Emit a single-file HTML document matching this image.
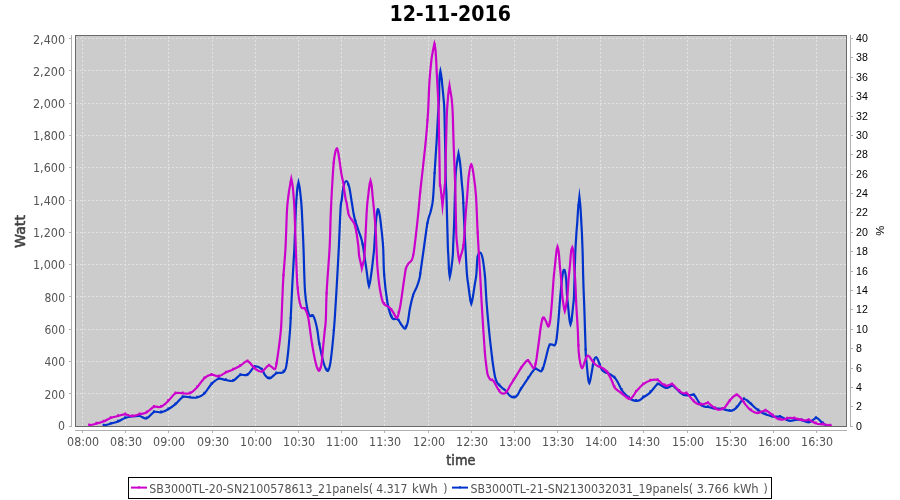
<!DOCTYPE html>
<html><head><meta charset="utf-8"><title>12-11-2016</title>
<style>
html,body{margin:0;padding:0;background:#fff;}
svg{display:block;}
.t{font-family:"DejaVu Sans Condensed","DejaVu Sans","Liberation Sans",sans-serif;font-size:12px;fill:#545454;}
.r{font-family:"Liberation Sans",sans-serif;font-size:10px;fill:#000;}
.sb{font-family:"DejaVu Sans","Liberation Sans",sans-serif;fill:#404040;stroke:#404040;stroke-width:0.55px;stroke-linejoin:round;}
.b{font-family:"DejaVu Sans","Liberation Sans",sans-serif;font-weight:bold;}
</style></head><body>
<svg width="900" height="500" viewBox="0 0 900 500">
<rect x="0" y="0" width="900" height="500" fill="#ffffff"/>
<text class="b" x="450.2" y="21" font-size="21" text-anchor="middle" fill="#000" textLength="121.5" lengthAdjust="spacingAndGlyphs">12-11-2016</text>
<rect x="75" y="35" width="772" height="392" fill="#cccccc"/>

<g stroke="#e2e2e2" stroke-width="1" stroke-dasharray="2 2" shape-rendering="crispEdges" fill="none">
<line x1="82.5" y1="36" x2="82.5" y2="426"/>
<line x1="125.5" y1="36" x2="125.5" y2="426"/>
<line x1="168.5" y1="36" x2="168.5" y2="426"/>
<line x1="212.5" y1="36" x2="212.5" y2="426"/>
<line x1="255.5" y1="36" x2="255.5" y2="426"/>
<line x1="298.5" y1="36" x2="298.5" y2="426"/>
<line x1="341.5" y1="36" x2="341.5" y2="426"/>
<line x1="384.5" y1="36" x2="384.5" y2="426"/>
<line x1="428.5" y1="36" x2="428.5" y2="426"/>
<line x1="471.5" y1="36" x2="471.5" y2="426"/>
<line x1="514.5" y1="36" x2="514.5" y2="426"/>
<line x1="557.5" y1="36" x2="557.5" y2="426"/>
<line x1="600.5" y1="36" x2="600.5" y2="426"/>
<line x1="643.5" y1="36" x2="643.5" y2="426"/>
<line x1="687.5" y1="36" x2="687.5" y2="426"/>
<line x1="730.5" y1="36" x2="730.5" y2="426"/>
<line x1="773.5" y1="36" x2="773.5" y2="426"/>
<line x1="816.5" y1="36" x2="816.5" y2="426"/>
<line x1="76" y1="393.5" x2="846" y2="393.5"/>
<line x1="76" y1="361.5" x2="846" y2="361.5"/>
<line x1="76" y1="329.5" x2="846" y2="329.5"/>
<line x1="76" y1="296.5" x2="846" y2="296.5"/>
<line x1="76" y1="264.5" x2="846" y2="264.5"/>
<line x1="76" y1="232.5" x2="846" y2="232.5"/>
<line x1="76" y1="200.5" x2="846" y2="200.5"/>
<line x1="76" y1="167.5" x2="846" y2="167.5"/>
<line x1="76" y1="135.5" x2="846" y2="135.5"/>
<line x1="76" y1="103.5" x2="846" y2="103.5"/>
<line x1="76" y1="70.5" x2="846" y2="70.5"/>
<line x1="76" y1="38.5" x2="846" y2="38.5"/>
</g>
<g fill="none" stroke-width="2.2" stroke-linejoin="miter" stroke-miterlimit="14" stroke-linecap="butt">
<path stroke="#0033cc" d="M103.5 425.5 C104.7 425.2 108.1 424.4 110.5 423.7 C112.9 423.0 115.6 422.4 118.0 421.5 C120.4 420.6 122.7 418.8 125.0 418.0 C127.3 417.2 129.6 416.8 132.0 416.5 C134.4 416.2 137.1 415.7 139.5 416.0 C141.9 416.3 144.1 419.2 146.5 418.5 C148.9 417.8 151.6 413.0 154.0 412.0 C156.4 411.0 158.6 412.8 161.0 412.3 C163.4 411.8 165.9 410.6 168.3 409.2 C170.7 407.8 173.1 406.2 175.5 404.2 C177.9 402.2 180.4 398.1 182.8 397.0 C185.2 395.9 187.6 397.4 190.0 397.5 C192.4 397.6 194.6 398.1 197.0 397.5 C199.4 396.9 201.8 395.9 204.2 393.7 C206.6 391.5 208.9 386.7 211.3 384.2 C213.7 381.7 216.3 379.5 218.7 378.8 C221.1 378.1 223.4 379.7 225.8 380.0 C228.2 380.3 230.6 381.6 233.0 380.8 C235.4 380.0 237.9 376.0 240.3 375.0 C242.7 374.0 245.1 376.1 247.5 374.7 C249.9 373.3 252.3 367.6 254.7 366.7 C257.1 365.8 260.0 367.8 261.7 369.2 C263.4 370.6 263.7 373.4 265.0 375.0 C266.3 376.6 267.6 378.8 269.5 378.5 C271.4 378.2 274.3 374.2 276.5 373.2 C278.7 372.2 281.2 373.3 282.8 372.5 C284.4 371.7 284.9 371.5 285.8 368.3 C286.7 365.1 287.3 359.6 288.0 353.3 C288.7 347.0 289.5 336.7 290.0 330.5 C290.5 324.3 290.4 324.2 290.8 316.0 C291.2 307.8 291.9 292.6 292.5 281.3 C293.1 270.0 293.8 259.9 294.4 248.0 C294.9 236.1 295.4 218.8 295.8 210.0 C296.2 201.2 296.5 198.7 296.8 195.0 C297.1 191.3 297.1 190.1 297.4 188.0 C297.7 185.9 298.5 182.3 298.5 182.3 C298.5 182.3 299.4 185.9 299.7 188.0 C300.0 190.1 300.1 191.3 300.5 195.0 C300.9 198.7 301.3 201.2 301.8 210.0 C302.3 218.8 303.0 234.4 303.5 248.0 C304.0 261.6 304.3 281.0 305.0 291.3 C305.7 301.6 306.7 305.6 307.5 309.7 C308.3 313.8 309.1 315.0 310.0 316.0 C310.9 317.0 312.1 314.6 313.0 315.5 C313.9 316.4 314.6 318.9 315.4 321.5 C316.1 324.1 316.9 327.4 317.5 331.0 C318.1 334.6 318.2 338.2 319.2 343.3 C320.2 348.4 322.0 357.1 323.3 361.7 C324.6 366.3 326.1 370.2 327.2 370.8 C328.3 371.4 329.1 369.3 330.0 365.0 C330.9 360.7 331.9 350.7 332.5 345.0 C333.1 339.3 333.4 336.1 333.8 331.0 C334.2 325.9 334.5 323.0 335.0 314.7 C335.5 306.4 336.4 292.4 337.0 281.3 C337.6 270.2 338.2 260.2 338.8 248.0 C339.4 235.8 340.1 216.0 340.6 208.0 C341.1 200.0 341.2 203.6 341.7 200.0 C342.2 196.4 342.7 189.9 343.5 186.7 C344.3 183.5 345.4 180.9 346.3 181.0 C347.2 181.1 348.3 183.6 349.2 187.0 C350.1 190.4 351.0 197.5 351.7 201.7 C352.4 205.9 352.8 208.9 353.3 212.0 C353.9 215.1 354.2 217.0 355.0 220.0 C355.8 223.0 357.2 226.7 358.3 230.0 C359.4 233.3 360.9 237.0 361.7 240.0 C362.5 243.0 362.9 245.5 363.3 248.0 C363.7 250.5 363.8 251.3 364.3 255.0 C364.8 258.7 365.9 265.7 366.5 270.0 C367.1 274.3 367.5 278.3 367.9 281.0 C368.3 283.7 369.0 286.1 369.0 286.1 C369.0 286.1 369.7 283.7 370.2 281.0 C370.7 278.3 371.2 274.3 371.8 270.0 C372.4 265.7 373.1 258.7 373.5 255.0 C373.9 251.3 373.8 253.3 374.2 248.0 C374.6 242.7 375.2 229.7 375.8 223.3 C376.4 216.9 377.1 210.8 377.7 209.4 C378.3 208.0 379.0 211.3 379.7 215.0 C380.4 218.7 381.1 226.2 381.7 231.7 C382.3 237.2 382.8 240.7 383.2 248.0 C383.6 255.3 383.5 266.3 384.2 275.5 C384.9 284.7 386.4 296.3 387.5 303.0 C388.6 309.7 389.8 312.9 390.8 315.5 C391.8 318.1 392.1 318.3 393.3 318.9 C394.5 319.5 396.4 318.2 397.8 319.3 C399.2 320.4 400.5 323.6 401.7 325.2 C402.9 326.8 404.1 329.2 405.1 328.7 C406.1 328.2 407.0 325.4 407.8 322.0 C408.6 318.6 409.1 312.5 410.0 308.0 C410.9 303.5 412.1 298.3 413.2 294.8 C414.3 291.3 415.7 289.6 416.8 286.8 C417.9 284.0 418.9 281.0 419.6 278.0 C420.3 275.0 420.2 273.7 420.9 269.0 C421.6 264.3 422.5 257.7 423.6 250.0 C424.7 242.3 426.3 229.2 427.5 222.7 C428.7 216.2 429.9 214.9 430.8 211.0 C431.7 207.1 432.4 205.6 433.0 199.0 C433.6 192.4 434.1 181.1 434.7 171.3 C435.3 161.5 436.1 149.4 436.7 140.0 C437.2 130.6 437.6 121.7 438.0 115.0 C438.4 108.3 438.8 105.9 439.0 100.0 C439.2 94.1 439.2 84.3 439.4 79.5 C439.6 74.7 440.4 71.0 440.4 71.0 C440.4 71.0 441.2 74.7 441.7 79.5 C442.2 84.3 443.2 94.1 443.7 100.0 C444.2 105.9 444.1 101.7 444.5 115.0 C444.9 128.3 445.5 166.2 445.8 179.7 C446.1 193.2 446.2 185.1 446.5 196.0 C446.8 206.9 447.5 235.2 447.8 245.0 C448.1 254.8 448.1 250.8 448.3 255.0 C448.5 259.2 448.8 266.4 449.0 270.0 C449.2 273.6 449.8 276.8 449.8 276.8 C449.8 276.8 450.6 273.6 451.1 270.0 C451.6 266.4 452.5 259.2 452.8 255.0 C453.1 250.8 453.0 250.7 453.2 245.0 C453.4 239.3 453.9 231.0 454.2 221.0 C454.5 211.0 454.9 193.5 455.2 185.0 C455.5 176.5 455.6 174.2 456.0 170.0 C456.4 165.8 457.0 162.7 457.4 160.0 C457.8 157.3 458.5 153.5 458.5 153.5 C458.5 153.5 459.3 157.3 459.7 160.0 C460.1 162.7 460.4 165.8 460.8 170.0 C461.2 174.2 461.6 180.7 462.0 185.0 C462.4 189.3 462.6 189.7 463.0 196.0 C463.4 202.3 463.7 213.0 464.2 222.7 C464.7 232.4 465.3 245.6 465.8 254.3 C466.3 263.0 466.6 269.9 467.0 275.0 C467.4 280.1 467.8 281.0 468.3 285.0 C468.8 289.0 469.7 295.9 470.2 299.0 C470.7 302.1 471.3 303.8 471.3 303.8 C471.3 303.8 471.9 302.1 472.5 299.0 C473.1 295.9 474.1 289.0 474.7 285.0 C475.3 281.0 475.8 279.6 476.3 275.0 C476.8 270.4 476.9 261.4 477.5 257.7 C478.1 254.0 479.2 252.7 480.0 252.7 C480.8 252.7 481.8 254.9 482.5 257.7 C483.2 260.5 483.8 265.8 484.2 269.3 C484.6 272.9 484.8 273.2 485.2 279.0 C485.6 284.8 486.0 295.2 486.7 304.0 C487.4 312.8 488.5 324.9 489.2 332.0 C489.9 339.1 490.2 341.9 490.8 346.7 C491.4 351.5 491.8 356.0 492.5 361.0 C493.2 366.0 494.2 373.0 495.0 376.7 C495.8 380.4 496.4 381.5 497.5 383.3 C498.6 385.1 500.3 386.2 501.7 387.5 C503.1 388.8 504.4 389.4 505.8 390.8 C507.2 392.2 508.6 394.7 510.0 395.8 C511.4 396.9 513.0 397.6 514.2 397.5 C515.5 397.4 516.4 396.4 517.5 395.0 C518.6 393.6 519.0 392.0 520.8 389.2 C522.5 386.4 526.0 381.2 528.0 378.3 C530.0 375.4 531.3 373.3 532.5 371.7 C533.7 370.1 534.3 369.0 535.3 368.7 C536.3 368.4 537.3 369.6 538.3 370.0 C539.3 370.4 540.5 371.7 541.3 371.3 C542.1 370.9 542.5 369.7 543.3 367.5 C544.0 365.3 545.0 361.5 545.8 358.3 C546.6 355.1 547.6 350.6 548.3 348.3 C549.0 346.0 549.3 345.1 550.0 344.5 C550.7 343.9 551.7 344.6 552.5 344.7 C553.3 344.8 554.3 346.1 555.0 345.0 C555.7 343.9 556.2 341.8 556.7 338.0 C557.2 334.2 557.7 328.9 558.3 322.0 C558.9 315.1 559.6 304.5 560.3 296.7 C561.0 288.9 561.8 279.4 562.5 275.0 C563.2 270.6 563.9 269.2 564.5 270.0 C565.1 270.8 565.8 275.8 566.2 280.0 C566.6 284.2 566.7 290.8 567.0 295.0 C567.3 299.2 567.6 301.0 568.0 305.0 C568.4 309.0 569.0 315.8 569.4 319.0 C569.8 322.2 570.5 324.4 570.5 324.4 C570.5 324.4 571.3 322.2 571.7 319.0 C572.1 315.8 572.8 309.0 573.2 305.0 C573.6 301.0 573.7 303.3 574.0 295.0 C574.3 286.7 574.8 265.0 575.2 255.0 C575.6 245.0 575.9 240.5 576.3 235.0 C576.6 229.5 577.0 226.5 577.3 222.0 C577.6 217.5 577.8 212.2 578.2 208.0 C578.6 203.8 579.4 196.9 579.4 196.9 C579.4 196.9 580.2 203.8 580.5 208.0 C580.8 212.2 581.0 217.4 581.3 222.0 C581.5 226.6 581.8 229.8 582.0 235.3 C582.2 240.8 582.5 247.6 582.7 255.0 C582.9 262.4 583.0 271.7 583.3 280.0 C583.5 288.3 583.9 296.7 584.2 305.0 C584.5 313.3 584.8 323.3 585.0 330.0 C585.2 336.7 585.4 340.8 585.5 345.0 C585.6 349.2 585.6 351.7 585.8 355.0 C586.0 358.3 586.4 361.0 586.8 365.0 C587.2 369.0 587.8 376.0 588.2 379.0 C588.6 382.0 589.3 383.2 589.3 383.2 C589.3 383.2 589.9 382.0 590.5 379.0 C591.1 376.0 592.4 368.2 593.0 365.0 C593.6 361.8 593.5 361.3 594.0 360.0 C594.5 358.7 595.5 357.1 596.2 357.2 C596.9 357.3 597.4 358.8 598.3 360.8 C599.2 362.9 600.6 367.6 601.7 369.5 C602.8 371.4 603.6 371.4 605.0 372.2 C606.4 373.0 608.3 373.2 610.0 374.2 C611.7 375.2 613.6 376.5 615.0 378.0 C616.4 379.5 617.2 381.3 618.3 383.3 C619.4 385.3 620.3 387.9 621.7 390.0 C623.1 392.1 625.0 394.2 626.7 395.8 C628.4 397.4 630.0 398.9 631.7 399.7 C633.4 400.5 635.3 400.8 636.7 400.8 C638.1 400.9 638.8 400.6 640.0 400.0 C641.2 399.4 642.3 398.0 643.7 397.0 C645.1 396.0 647.0 395.2 648.3 394.2 C649.6 393.2 650.6 392.1 651.7 390.8 C652.8 389.6 654.0 387.9 655.0 386.7 C656.0 385.5 656.9 383.9 658.0 383.8 C659.1 383.7 660.4 385.1 661.7 385.8 C663.0 386.5 664.5 387.8 665.8 388.0 C667.0 388.2 668.1 387.4 669.2 387.0 C670.3 386.6 671.4 385.3 672.5 385.5 C673.6 385.7 674.5 387.1 675.8 388.3 C677.0 389.5 678.8 391.4 680.0 392.5 C681.2 393.6 682.2 394.2 683.3 394.7 C684.4 395.2 685.5 395.2 686.7 395.3 C688.0 395.4 689.5 395.1 690.8 395.0 C692.0 394.9 693.1 394.2 694.2 395.0 C695.3 395.8 696.4 398.3 697.5 400.0 C698.6 401.7 699.5 403.9 700.8 405.0 C702.0 406.1 703.8 406.4 705.0 406.7 C706.2 407.0 706.9 406.7 708.3 407.0 C709.7 407.3 711.6 408.0 713.3 408.3 C715.0 408.6 716.6 408.6 718.3 408.7 C720.0 408.8 721.8 408.9 723.3 409.2 C724.8 409.5 726.2 410.0 727.5 410.3 C728.8 410.6 729.7 410.9 730.8 410.8 C731.9 410.7 733.0 410.3 734.2 409.5 C735.4 408.7 736.6 407.6 737.8 406.2 C739.0 404.8 740.2 402.4 741.2 401.2 C742.2 400.0 743.0 399.1 744.0 399.0 C745.0 398.9 746.0 399.6 747.2 400.5 C748.4 401.4 749.6 402.8 751.2 404.2 C752.8 405.6 755.0 407.8 756.7 409.2 C758.5 410.6 760.0 411.6 761.7 412.5 C763.4 413.4 765.0 414.1 766.7 414.7 C768.4 415.3 770.2 416.0 771.7 416.3 C773.2 416.6 774.4 416.6 775.8 416.7 C777.2 416.8 778.8 416.5 780.0 416.7 C781.2 416.9 782.0 417.4 783.3 418.0 C784.5 418.6 786.2 419.8 787.5 420.3 C788.8 420.8 789.5 420.9 790.8 420.8 C792.0 420.8 793.6 420.2 795.0 420.0 C796.4 419.8 797.8 419.6 799.2 419.7 C800.6 419.8 801.9 420.4 803.3 420.8 C804.7 421.2 806.4 422.0 807.5 422.2 C808.6 422.4 809.0 422.4 810.0 422.0 C811.0 421.6 812.2 420.4 813.3 419.7 C814.3 419.0 815.3 417.8 816.3 417.8 C817.3 417.8 818.2 418.8 819.2 419.7 C820.2 420.6 821.4 422.1 822.5 423.0 C823.6 423.9 824.7 424.5 825.8 425.0 C826.9 425.5 828.6 425.7 829.2 425.8"/>
</g>
<path fill="#0033cc" d="M102.6 423.7h2v2.4h-2zM109.8 421.9h2v2.4h-2zM117.0 419.8h2v2.4h-2zM124.2 416.2h2v2.4h-2zM131.4 414.7h2v2.4h-2zM138.6 414.3h2v2.4h-2zM145.8 416.5h2v2.4h-2zM152.9 410.3h2v2.4h-2zM160.1 410.5h2v2.4h-2zM167.3 407.4h2v2.4h-2zM174.5 402.4h2v2.4h-2zM181.7 395.3h2v2.4h-2zM188.9 395.7h2v2.4h-2zM196.1 395.7h2v2.4h-2zM203.3 391.8h2v2.4h-2zM210.5 382.3h2v2.4h-2zM217.7 377.1h2v2.4h-2zM224.9 378.3h2v2.4h-2zM232.1 379.0h2v2.4h-2zM239.3 373.3h2v2.4h-2zM246.5 373.0h2v2.4h-2zM253.7 365.0h2v2.4h-2zM260.9 367.8h2v2.4h-2zM268.1 376.4h2v2.4h-2zM275.3 371.6h2v2.4h-2zM282.5 369.8h2v2.4h-2zM289.7 316.9h2v2.4h-2zM296.9 184.0h2v2.4h-2zM304.0 289.9h2v2.4h-2zM311.2 313.9h2v2.4h-2zM318.4 342.6h2v2.4h-2zM325.6 367.7h2v2.4h-2zM332.8 328.9h2v2.4h-2zM340.0 203.2h2v2.4h-2zM347.2 183.2h2v2.4h-2zM354.4 219.5h2v2.4h-2zM361.6 242.8h2v2.4h-2zM368.8 281.0h2v2.4h-2zM376.0 212.8h2v2.4h-2zM383.2 273.5h2v2.4h-2zM390.4 314.5h2v2.4h-2zM397.6 318.7h2v2.4h-2zM404.8 325.3h2v2.4h-2zM412.0 294.0h2v2.4h-2zM419.2 272.3h2v2.4h-2zM426.4 221.9h2v2.4h-2zM433.6 171.9h2v2.4h-2zM440.8 78.3h2v2.4h-2zM447.9 267.1h2v2.4h-2zM455.1 167.3h2v2.4h-2zM462.3 201.7h2v2.4h-2zM469.5 298.7h2v2.4h-2zM476.7 255.5h2v2.4h-2zM483.9 274.5h2v2.4h-2zM491.1 356.0h2v2.4h-2zM498.3 383.4h2v2.4h-2zM505.5 389.9h2v2.4h-2zM512.7 395.5h2v2.4h-2zM519.9 387.3h2v2.4h-2zM527.1 376.4h2v2.4h-2zM534.3 367.0h2v2.4h-2zM541.5 367.3h2v2.4h-2zM548.7 343.5h2v2.4h-2zM555.9 334.6h2v2.4h-2zM563.1 269.3h2v2.4h-2zM570.3 319.3h2v2.4h-2zM577.5 203.9h2v2.4h-2zM584.7 348.3h2v2.4h-2zM591.8 364.1h2v2.4h-2zM599.0 363.5h2v2.4h-2zM606.2 371.3h2v2.4h-2zM613.4 375.8h2v2.4h-2zM620.6 388.1h2v2.4h-2zM627.8 395.7h2v2.4h-2zM635.0 398.9h2v2.4h-2zM642.2 395.6h2v2.4h-2zM649.4 390.3h2v2.4h-2zM656.6 382.4h2v2.4h-2zM663.8 385.7h2v2.4h-2zM671.0 384.0h2v2.4h-2zM678.2 389.9h2v2.4h-2zM685.4 393.5h2v2.4h-2zM692.6 393.2h2v2.4h-2zM699.8 403.2h2v2.4h-2zM707.0 405.2h2v2.4h-2zM714.2 406.7h2v2.4h-2zM721.4 407.4h2v2.4h-2zM728.6 408.9h2v2.4h-2zM735.7 405.4h2v2.4h-2zM742.9 397.3h2v2.4h-2zM750.1 402.4h2v2.4h-2zM757.3 408.5h2v2.4h-2zM764.5 412.4h2v2.4h-2zM771.7 414.6h2v2.4h-2zM778.9 414.9h2v2.4h-2zM786.1 418.3h2v2.4h-2zM793.3 418.4h2v2.4h-2zM800.5 418.6h2v2.4h-2zM807.7 420.4h2v2.4h-2zM814.9 416.3h2v2.4h-2zM822.1 421.6h2v2.4h-2z"/>
<g fill="none" stroke-width="2.2" stroke-linejoin="miter" stroke-miterlimit="14" stroke-linecap="butt">
<path stroke="#cc00cc" d="M88.5 425.5 C89.8 425.2 93.5 424.4 96.0 423.7 C98.5 423.0 101.1 422.4 103.5 421.5 C105.9 420.6 108.1 418.9 110.5 418.0 C112.9 417.1 115.6 416.6 118.0 416.0 C120.4 415.4 122.7 414.3 125.0 414.3 C127.3 414.3 129.6 416.2 132.0 416.2 C134.4 416.2 137.1 414.9 139.5 414.3 C141.9 413.7 144.1 413.8 146.5 412.5 C148.9 411.2 151.6 407.8 154.0 406.8 C156.4 405.9 158.6 407.8 161.0 406.8 C163.4 405.8 165.9 403.1 168.3 400.8 C170.7 398.6 173.1 394.6 175.5 393.3 C177.9 392.1 180.4 393.3 182.8 393.3 C185.2 393.3 187.6 394.3 190.0 393.3 C192.4 392.3 194.6 390.0 197.0 387.5 C199.4 385.0 201.8 380.4 204.2 378.3 C206.6 376.2 208.9 375.0 211.3 374.7 C213.7 374.4 216.3 376.7 218.7 376.3 C221.1 375.9 223.4 373.6 225.8 372.5 C228.2 371.4 230.6 370.6 233.0 369.5 C235.4 368.4 237.9 367.2 240.3 365.8 C242.7 364.4 245.1 360.8 247.5 361.2 C249.9 361.6 252.3 366.6 254.7 368.3 C257.1 370.1 259.3 372.2 261.7 371.7 C264.1 371.2 266.6 365.7 268.8 365.3 C271.0 364.9 273.4 369.7 274.7 369.2 C276.0 368.7 275.9 366.5 276.7 362.5 C277.4 358.5 278.5 350.2 279.2 345.0 C279.9 339.8 280.4 335.2 280.8 331.0 C281.2 326.8 281.1 328.8 281.5 320.0 C281.9 311.2 282.6 290.0 283.3 278.0 C284.0 266.0 284.9 259.3 285.5 248.0 C286.1 236.7 286.5 218.8 287.0 210.0 C287.5 201.2 288.0 199.2 288.5 195.0 C289.0 190.8 289.6 187.7 290.1 185.0 C290.6 182.3 291.3 178.7 291.3 178.7 C291.3 178.7 292.1 182.3 292.5 185.0 C292.9 187.7 293.2 190.8 293.5 195.0 C293.8 199.2 294.1 201.2 294.5 210.0 C294.9 218.8 295.3 235.3 295.8 248.0 C296.3 260.7 296.7 276.6 297.5 286.3 C298.3 296.0 299.6 302.6 300.8 306.3 C302.1 310.1 303.8 306.9 305.0 308.8 C306.2 310.8 307.2 312.5 308.3 318.0 C309.4 323.5 310.4 334.1 311.7 341.7 C312.9 349.2 314.6 358.4 315.8 363.3 C317.0 368.2 317.8 370.5 318.7 370.8 C319.6 371.1 320.5 369.3 321.3 365.0 C322.1 360.7 322.7 350.7 323.3 345.0 C323.9 339.3 324.3 335.2 324.7 331.0 C325.1 326.8 325.5 326.6 325.8 320.0 C326.1 313.4 326.1 303.3 326.7 291.3 C327.3 279.3 328.9 261.1 329.6 248.0 C330.3 234.9 330.3 224.3 330.8 213.0 C331.3 201.7 331.9 189.1 332.5 180.0 C333.1 170.9 333.4 163.6 334.2 158.3 C334.9 153.0 336.2 148.0 337.0 148.0 C337.8 148.0 338.5 154.1 339.2 158.3 C339.9 162.5 340.6 169.2 341.3 173.3 C342.0 177.4 342.8 180.2 343.3 183.0 C343.8 185.8 343.8 187.2 344.2 190.0 C344.6 192.8 345.4 197.8 345.8 200.0 C346.2 202.2 346.2 200.8 346.7 203.3 C347.2 205.8 347.8 212.1 348.8 215.0 C349.8 217.9 351.4 218.9 352.5 220.8 C353.6 222.8 354.3 222.6 355.3 226.7 C356.3 230.8 357.7 240.8 358.3 245.5 C358.9 250.2 358.6 252.1 359.0 255.0 C359.4 257.9 360.2 260.8 360.7 263.0 C361.2 265.2 361.8 268.4 361.8 268.4 C361.8 268.4 362.6 265.2 363.0 263.0 C363.4 260.8 363.9 263.8 364.5 255.0 C365.1 246.2 366.2 220.0 366.8 210.0 C367.4 200.0 367.9 199.0 368.3 195.0 C368.7 191.0 369.0 188.4 369.4 186.0 C369.8 183.6 370.5 180.7 370.5 180.7 C370.5 180.7 371.4 183.6 371.7 186.0 C372.0 188.4 372.1 191.0 372.5 195.0 C372.9 199.0 373.4 203.9 374.0 210.0 C374.6 216.1 375.4 225.4 375.8 231.7 C376.2 238.0 376.2 241.9 376.5 248.0 C376.8 254.1 376.9 261.1 377.5 268.0 C378.1 274.9 379.0 283.9 380.0 289.7 C381.0 295.5 381.8 300.1 383.3 303.0 C384.8 305.9 387.5 305.6 389.2 307.2 C390.9 308.8 392.0 310.7 393.3 312.5 C394.6 314.3 395.9 318.8 397.0 318.0 C398.1 317.2 399.1 312.0 400.0 307.5 C400.9 303.0 401.8 296.1 402.5 291.0 C403.2 285.9 403.9 280.7 404.5 277.0 C405.1 273.3 405.2 271.2 405.8 269.0 C406.4 266.8 407.3 265.2 408.3 263.7 C409.3 262.2 410.8 261.8 411.7 260.2 C412.6 258.6 412.8 258.0 413.5 254.0 C414.2 250.0 415.0 242.8 415.8 236.0 C416.6 229.2 417.6 220.2 418.3 213.0 C419.0 205.8 419.3 201.2 420.1 193.0 C420.9 184.8 422.4 172.8 423.3 164.0 C424.2 155.2 425.0 149.0 425.8 140.5 C426.6 132.0 427.4 122.9 428.0 113.0 C428.6 103.1 428.9 89.7 429.5 81.0 C430.1 72.3 430.7 66.2 431.3 61.0 C431.9 55.8 432.6 52.9 433.1 50.0 C433.6 47.1 434.4 43.7 434.4 43.7 C434.4 43.7 435.2 47.1 435.5 50.0 C435.8 52.9 435.9 55.8 436.2 61.0 C436.5 66.2 436.8 72.3 437.2 81.0 C437.6 89.7 438.3 96.5 438.7 113.0 C439.1 129.5 439.5 168.0 439.8 180.0 C440.1 192.0 440.0 182.5 440.3 185.0 C440.6 187.5 441.0 191.6 441.4 195.0 C441.8 198.4 442.5 205.7 442.5 205.7 C442.5 205.7 443.3 198.4 443.7 195.0 C444.1 191.6 444.6 187.5 444.8 185.0 C445.1 182.5 445.0 186.4 445.2 180.0 C445.4 173.6 445.7 157.3 446.0 146.5 C446.3 135.7 446.5 122.8 446.8 115.0 C447.1 107.2 447.5 103.7 447.8 100.0 C448.1 96.3 448.1 95.4 448.4 93.0 C448.7 90.6 449.5 85.5 449.5 85.5 C449.5 85.5 450.3 90.6 450.7 93.0 C451.1 95.4 451.4 96.3 451.8 100.0 C452.2 103.7 452.5 107.3 452.8 115.0 C453.1 122.7 453.3 135.5 453.7 146.3 C454.1 157.1 454.7 171.4 455.0 179.7 C455.3 188.0 455.3 186.9 455.5 196.0 C455.7 205.1 456.0 226.1 456.3 234.3 C456.6 242.5 456.9 241.4 457.2 245.0 C457.5 248.6 458.0 253.4 458.4 256.0 C458.8 258.6 459.4 260.9 459.4 260.9 C459.4 260.9 460.0 258.6 460.7 256.0 C461.4 253.4 462.6 252.2 463.5 245.0 C464.4 237.8 465.2 220.9 465.8 212.7 C466.4 204.5 466.7 202.1 467.2 196.0 C467.7 189.9 468.0 181.7 468.7 176.3 C469.4 170.9 470.4 163.8 471.3 163.8 C472.2 163.8 473.0 170.9 473.8 176.3 C474.6 181.7 475.4 187.2 476.0 196.0 C476.6 204.8 477.0 218.8 477.5 229.3 C478.0 239.9 478.7 251.0 479.2 259.3 C479.7 267.6 480.0 271.6 480.4 279.0 C480.8 286.4 481.2 295.6 481.7 304.0 C482.2 312.4 482.8 321.2 483.3 329.5 C483.9 337.8 484.5 348.1 485.0 354.0 C485.5 359.9 485.8 361.7 486.2 365.0 C486.6 368.3 486.9 371.6 487.5 374.0 C488.1 376.4 489.0 378.1 490.0 379.2 C491.0 380.3 492.2 379.6 493.3 380.8 C494.4 382.1 495.6 384.8 496.7 386.7 C497.8 388.6 498.9 390.8 500.0 392.0 C501.1 393.2 502.2 393.8 503.3 393.7 C504.4 393.6 505.6 393.0 506.7 391.7 C507.8 390.4 508.8 387.9 510.0 385.8 C511.2 383.7 512.4 382.1 514.2 379.2 C516.0 376.3 518.9 371.2 520.8 368.3 C522.7 365.4 524.6 363.0 525.8 361.7 C527.0 360.4 527.2 360.1 528.0 360.5 C528.8 360.9 529.8 362.9 530.8 364.2 C531.8 365.5 532.9 368.4 533.7 368.3 C534.5 368.2 535.2 366.1 535.8 363.3 C536.4 360.5 536.9 355.8 537.5 351.7 C538.1 347.6 538.7 343.2 539.2 339.0 C539.8 334.8 540.2 330.3 540.8 326.7 C541.4 323.1 542.2 318.5 543.0 317.5 C543.8 316.5 544.9 319.3 545.8 320.8 C546.7 322.3 547.6 326.6 548.3 326.7 C549.0 326.8 549.4 325.3 550.0 321.7 C550.6 318.1 551.1 311.9 551.7 305.0 C552.3 298.1 553.0 286.7 553.5 280.0 C554.0 273.3 554.5 269.7 555.0 265.0 C555.5 260.3 556.0 255.1 556.4 252.0 C556.8 248.9 557.5 246.6 557.5 246.6 C557.5 246.6 558.3 248.9 558.7 252.0 C559.1 255.1 559.4 260.3 559.8 265.0 C560.2 269.7 560.8 275.0 561.2 280.0 C561.6 285.0 561.8 290.7 562.2 295.0 C562.6 299.3 563.3 303.3 563.7 306.0 C564.1 308.7 564.8 311.3 564.8 311.3 C564.8 311.3 565.6 308.7 566.0 306.0 C566.4 303.3 567.1 299.3 567.5 295.0 C567.9 290.7 568.1 285.0 568.5 280.0 C568.9 275.0 569.6 269.7 570.0 265.0 C570.4 260.3 570.7 255.0 571.1 252.0 C571.5 249.0 572.3 247.2 572.3 247.2 C572.3 247.2 573.1 249.0 573.4 252.0 C573.7 255.0 573.7 260.3 574.0 265.0 C574.3 269.7 574.8 273.3 575.2 280.0 C575.6 286.7 575.9 297.0 576.3 305.0 C576.7 313.0 577.3 320.2 577.7 328.0 C578.1 335.8 578.3 345.8 578.7 351.7 C579.1 357.6 579.7 360.5 580.3 363.3 C580.9 366.1 581.6 368.3 582.2 368.3 C582.9 368.3 583.5 365.2 584.2 363.3 C585.0 361.4 586.0 357.9 586.7 356.7 C587.5 355.4 587.9 355.2 588.7 355.8 C589.5 356.4 590.7 358.6 591.7 360.0 C592.8 361.4 593.8 363.1 595.0 364.2 C596.2 365.3 597.8 366.0 599.2 366.7 C600.6 367.4 601.9 367.5 603.3 368.5 C604.7 369.5 606.1 370.5 607.5 372.5 C608.9 374.5 610.5 377.9 611.7 380.5 C613.0 383.1 613.3 385.9 615.0 388.0 C616.7 390.1 619.8 391.7 621.7 393.3 C623.7 394.9 625.3 396.5 626.7 397.5 C628.1 398.5 628.9 399.5 630.0 399.2 C631.1 398.9 632.2 397.2 633.3 395.8 C634.4 394.4 635.0 392.7 636.7 390.8 C638.4 388.9 640.9 385.9 643.3 384.2 C645.6 382.4 648.4 381.0 650.8 380.3 C653.2 379.6 655.7 379.5 657.5 380.0 C659.3 380.5 660.3 382.3 661.7 383.3 C663.1 384.3 664.5 385.5 665.8 385.8 C667.0 386.1 668.1 385.3 669.2 385.0 C670.3 384.7 671.4 383.8 672.5 384.2 C673.6 384.6 674.5 386.2 675.8 387.5 C677.0 388.8 678.8 390.7 680.0 391.7 C681.2 392.7 682.2 393.0 683.3 393.3 C684.4 393.6 685.6 392.7 686.7 393.3 C687.8 393.9 688.8 395.3 690.0 396.7 C691.2 398.1 692.8 400.4 694.2 401.7 C695.6 402.9 696.8 403.8 698.3 404.2 C699.8 404.6 701.7 404.4 703.3 404.2 C704.9 404.0 706.6 402.7 708.0 403.0 C709.4 403.3 710.2 404.8 711.7 405.8 C713.2 406.8 715.3 408.6 716.7 409.2 C718.1 409.8 718.8 409.9 720.0 409.7 C721.2 409.5 722.8 409.2 724.2 408.0 C725.6 406.8 726.8 404.4 728.3 402.5 C729.8 400.6 731.8 398.0 733.3 396.7 C734.8 395.4 735.8 394.6 737.0 394.8 C738.2 395.0 739.5 396.5 740.8 398.0 C742.1 399.5 743.5 402.1 745.0 404.0 C746.5 405.9 748.3 408.2 750.0 409.6 C751.7 411.0 753.6 411.9 755.0 412.5 C756.4 413.1 757.0 413.2 758.3 413.0 C759.5 412.8 761.2 411.7 762.5 411.3 C763.8 410.9 764.7 410.3 765.8 410.5 C766.9 410.7 768.0 411.6 769.2 412.5 C770.5 413.4 771.9 414.8 773.3 415.8 C774.7 416.8 776.1 418.1 777.5 418.7 C778.9 419.3 780.5 419.6 781.7 419.7 C783.0 419.8 783.9 419.5 785.0 419.2 C786.1 418.9 787.0 418.2 788.3 418.0 C789.5 417.8 791.1 417.9 792.5 418.0 C793.9 418.1 795.2 418.4 796.7 418.7 C798.2 419.0 800.2 419.7 801.7 420.0 C803.2 420.3 804.5 420.3 805.8 420.3 C807.0 420.3 808.1 419.8 809.2 420.0 C810.3 420.2 811.2 421.1 812.5 421.7 C813.8 422.3 815.3 423.3 816.7 423.7 C818.1 424.1 819.4 424.1 820.8 424.2 C822.2 424.3 823.8 424.3 825.0 424.5 C826.2 424.7 827.2 425.1 828.3 425.3 C829.4 425.5 831.1 425.7 831.7 425.8"/>
</g>
<path fill="#cc00cc" d="M88.2 423.6h2v2.4h-2zM95.4 421.8h2v2.4h-2zM102.6 419.7h2v2.4h-2zM109.8 416.2h2v2.4h-2zM117.0 414.3h2v2.4h-2zM124.2 412.6h2v2.4h-2zM131.4 414.4h2v2.4h-2zM138.6 412.5h2v2.4h-2zM145.8 410.6h2v2.4h-2zM152.9 405.1h2v2.4h-2zM160.1 404.9h2v2.4h-2zM167.3 399.0h2v2.4h-2zM174.5 391.6h2v2.4h-2zM181.7 391.6h2v2.4h-2zM188.9 391.6h2v2.4h-2zM196.1 385.6h2v2.4h-2zM203.3 376.5h2v2.4h-2zM210.5 373.0h2v2.4h-2zM217.7 374.5h2v2.4h-2zM224.9 370.7h2v2.4h-2zM232.1 367.7h2v2.4h-2zM239.3 364.1h2v2.4h-2zM246.5 359.5h2v2.4h-2zM253.7 366.5h2v2.4h-2zM260.9 369.8h2v2.4h-2zM268.1 363.7h2v2.4h-2zM275.3 362.2h2v2.4h-2zM282.5 274.1h2v2.4h-2zM289.7 180.4h2v2.4h-2zM296.9 286.7h2v2.4h-2zM304.0 307.2h2v2.4h-2zM311.2 342.8h2v2.4h-2zM318.4 367.4h2v2.4h-2zM325.6 291.8h2v2.4h-2zM332.8 161.3h2v2.4h-2zM340.0 169.5h2v2.4h-2zM347.2 210.0h2v2.4h-2zM354.4 225.6h2v2.4h-2zM361.6 263.1h2v2.4h-2zM368.8 182.4h2v2.4h-2zM376.0 256.2h2v2.4h-2zM383.2 301.9h2v2.4h-2zM390.4 308.3h2v2.4h-2zM397.6 310.7h2v2.4h-2zM404.8 267.4h2v2.4h-2zM412.0 254.1h2v2.4h-2zM419.2 190.7h2v2.4h-2zM426.4 119.2h2v2.4h-2zM433.6 43.0h2v2.4h-2zM440.8 196.6h2v2.4h-2zM447.9 87.5h2v2.4h-2zM455.1 224.9h2v2.4h-2zM462.3 243.9h2v2.4h-2zM469.5 165.8h2v2.4h-2zM476.7 231.5h2v2.4h-2zM483.9 351.1h2v2.4h-2zM491.1 378.5h2v2.4h-2zM498.3 389.1h2v2.4h-2zM505.5 390.1h2v2.4h-2zM512.7 378.2h2v2.4h-2zM519.9 366.4h2v2.4h-2zM527.1 358.9h2v2.4h-2zM534.3 362.8h2v2.4h-2zM541.5 317.9h2v2.4h-2zM548.7 320.9h2v2.4h-2zM555.9 248.0h2v2.4h-2zM563.1 306.0h2v2.4h-2zM570.3 249.6h2v2.4h-2zM577.5 344.1h2v2.4h-2zM584.7 357.7h2v2.4h-2zM591.8 359.7h2v2.4h-2zM599.0 365.3h2v2.4h-2zM606.2 370.5h2v2.4h-2zM613.4 385.0h2v2.4h-2zM620.6 391.5h2v2.4h-2zM627.8 396.8h2v2.4h-2zM635.0 390.1h2v2.4h-2zM642.2 382.5h2v2.4h-2zM649.4 378.8h2v2.4h-2zM656.6 378.3h2v2.4h-2zM663.8 383.4h2v2.4h-2zM671.0 382.6h2v2.4h-2zM678.2 389.1h2v2.4h-2zM685.4 391.6h2v2.4h-2zM692.6 399.2h2v2.4h-2zM699.8 402.4h2v2.4h-2zM707.0 401.3h2v2.4h-2zM714.2 406.4h2v2.4h-2zM721.4 407.0h2v2.4h-2zM728.6 399.3h2v2.4h-2zM735.7 393.2h2v2.4h-2zM742.9 400.7h2v2.4h-2zM750.1 408.5h2v2.4h-2zM757.3 411.2h2v2.4h-2zM764.5 408.8h2v2.4h-2zM771.7 413.6h2v2.4h-2zM778.9 417.5h2v2.4h-2zM786.1 416.7h2v2.4h-2zM793.3 416.6h2v2.4h-2zM800.5 418.2h2v2.4h-2zM807.7 418.3h2v2.4h-2zM814.9 421.6h2v2.4h-2zM822.1 422.6h2v2.4h-2zM829.3 423.8h2v2.4h-2z"/>
<rect x="75.5" y="35.5" width="771" height="391" fill="none" stroke="#6a6a6a" stroke-width="1" shape-rendering="crispEdges"/>
<g stroke="#b0b0b0" stroke-width="1" shape-rendering="crispEdges" fill="none">
<line x1="71.5" y1="35" x2="71.5" y2="427"/>
<line x1="850.5" y1="35" x2="850.5" y2="427"/>
<line x1="75" y1="430.5" x2="847" y2="430.5"/>
<line x1="82.5" y1="430" x2="82.5" y2="433"/>
<line x1="125.5" y1="430" x2="125.5" y2="433"/>
<line x1="168.5" y1="430" x2="168.5" y2="433"/>
<line x1="212.5" y1="430" x2="212.5" y2="433"/>
<line x1="255.5" y1="430" x2="255.5" y2="433"/>
<line x1="298.5" y1="430" x2="298.5" y2="433"/>
<line x1="341.5" y1="430" x2="341.5" y2="433"/>
<line x1="384.5" y1="430" x2="384.5" y2="433"/>
<line x1="428.5" y1="430" x2="428.5" y2="433"/>
<line x1="471.5" y1="430" x2="471.5" y2="433"/>
<line x1="514.5" y1="430" x2="514.5" y2="433"/>
<line x1="557.5" y1="430" x2="557.5" y2="433"/>
<line x1="600.5" y1="430" x2="600.5" y2="433"/>
<line x1="643.5" y1="430" x2="643.5" y2="433"/>
<line x1="687.5" y1="430" x2="687.5" y2="433"/>
<line x1="730.5" y1="430" x2="730.5" y2="433"/>
<line x1="773.5" y1="430" x2="773.5" y2="433"/>
<line x1="816.5" y1="430" x2="816.5" y2="433"/>
<line x1="69" y1="426.5" x2="72" y2="426.5"/>
<line x1="69" y1="393.5" x2="72" y2="393.5"/>
<line x1="69" y1="361.5" x2="72" y2="361.5"/>
<line x1="69" y1="329.5" x2="72" y2="329.5"/>
<line x1="69" y1="296.5" x2="72" y2="296.5"/>
<line x1="69" y1="264.5" x2="72" y2="264.5"/>
<line x1="69" y1="232.5" x2="72" y2="232.5"/>
<line x1="69" y1="200.5" x2="72" y2="200.5"/>
<line x1="69" y1="167.5" x2="72" y2="167.5"/>
<line x1="69" y1="135.5" x2="72" y2="135.5"/>
<line x1="69" y1="103.5" x2="72" y2="103.5"/>
<line x1="69" y1="70.5" x2="72" y2="70.5"/>
<line x1="69" y1="38.5" x2="72" y2="38.5"/>
<line x1="850" y1="426.5" x2="853" y2="426.5"/>
<line x1="850" y1="406.5" x2="853" y2="406.5"/>
<line x1="850" y1="387.5" x2="853" y2="387.5"/>
<line x1="850" y1="368.5" x2="853" y2="368.5"/>
<line x1="850" y1="348.5" x2="853" y2="348.5"/>
<line x1="850" y1="329.5" x2="853" y2="329.5"/>
<line x1="850" y1="309.5" x2="853" y2="309.5"/>
<line x1="850" y1="290.5" x2="853" y2="290.5"/>
<line x1="850" y1="271.5" x2="853" y2="271.5"/>
<line x1="850" y1="251.5" x2="853" y2="251.5"/>
<line x1="850" y1="232.5" x2="853" y2="232.5"/>
<line x1="850" y1="212.5" x2="853" y2="212.5"/>
<line x1="850" y1="193.5" x2="853" y2="193.5"/>
<line x1="850" y1="174.5" x2="853" y2="174.5"/>
<line x1="850" y1="154.5" x2="853" y2="154.5"/>
<line x1="850" y1="135.5" x2="853" y2="135.5"/>
<line x1="850" y1="116.5" x2="853" y2="116.5"/>
<line x1="850" y1="96.5" x2="853" y2="96.5"/>
<line x1="850" y1="77.5" x2="853" y2="77.5"/>
<line x1="850" y1="57.5" x2="853" y2="57.5"/>
<line x1="850" y1="38.5" x2="853" y2="38.5"/>
</g>
<g class="t">
<text x="67.1" y="446" textLength="32" lengthAdjust="spacingAndGlyphs">08:00</text>
<text x="110.1" y="446" textLength="32" lengthAdjust="spacingAndGlyphs">08:30</text>
<text x="153.1" y="446" textLength="32" lengthAdjust="spacingAndGlyphs">09:00</text>
<text x="197.1" y="446" textLength="32" lengthAdjust="spacingAndGlyphs">09:30</text>
<text x="240.1" y="446" textLength="32" lengthAdjust="spacingAndGlyphs">10:00</text>
<text x="283.1" y="446" textLength="32" lengthAdjust="spacingAndGlyphs">10:30</text>
<text x="326.1" y="446" textLength="32" lengthAdjust="spacingAndGlyphs">11:00</text>
<text x="369.1" y="446" textLength="32" lengthAdjust="spacingAndGlyphs">11:30</text>
<text x="413.1" y="446" textLength="32" lengthAdjust="spacingAndGlyphs">12:00</text>
<text x="456.1" y="446" textLength="32" lengthAdjust="spacingAndGlyphs">12:30</text>
<text x="499.1" y="446" textLength="32" lengthAdjust="spacingAndGlyphs">13:00</text>
<text x="542.1" y="446" textLength="32" lengthAdjust="spacingAndGlyphs">13:30</text>
<text x="585.1" y="446" textLength="32" lengthAdjust="spacingAndGlyphs">14:00</text>
<text x="628.1" y="446" textLength="32" lengthAdjust="spacingAndGlyphs">14:30</text>
<text x="672.1" y="446" textLength="32" lengthAdjust="spacingAndGlyphs">15:00</text>
<text x="715.1" y="446" textLength="32" lengthAdjust="spacingAndGlyphs">15:30</text>
<text x="758.1" y="446" textLength="32" lengthAdjust="spacingAndGlyphs">16:00</text>
<text x="801.1" y="446" textLength="32" lengthAdjust="spacingAndGlyphs">16:30</text>
</g>
<g class="t" text-anchor="end">
<text x="65" y="430.2" textLength="7" lengthAdjust="spacingAndGlyphs">0</text>
<text x="65" y="398.8" textLength="20.5" lengthAdjust="spacingAndGlyphs">200</text>
<text x="65" y="366.0" textLength="20.5" lengthAdjust="spacingAndGlyphs">400</text>
<text x="65" y="334.0" textLength="20.5" lengthAdjust="spacingAndGlyphs">600</text>
<text x="65" y="301.7" textLength="20.5" lengthAdjust="spacingAndGlyphs">800</text>
<text x="65" y="269.0" textLength="32" lengthAdjust="spacingAndGlyphs">1,000</text>
<text x="65" y="237.0" textLength="32" lengthAdjust="spacingAndGlyphs">1,200</text>
<text x="65" y="204.7" textLength="32" lengthAdjust="spacingAndGlyphs">1,400</text>
<text x="65" y="172.2" textLength="32" lengthAdjust="spacingAndGlyphs">1,600</text>
<text x="65" y="140.0" textLength="32" lengthAdjust="spacingAndGlyphs">1,800</text>
<text x="65" y="108.0" textLength="32" lengthAdjust="spacingAndGlyphs">2,000</text>
<text x="65" y="76.0" textLength="32" lengthAdjust="spacingAndGlyphs">2,200</text>
<text x="65" y="44.0" textLength="32" lengthAdjust="spacingAndGlyphs">2,400</text>
</g>
<g class="r">
<text x="856" y="430.2" textLength="5.9" lengthAdjust="spacingAndGlyphs">0</text>
<text x="856" y="410.2" textLength="5.9" lengthAdjust="spacingAndGlyphs">2</text>
<text x="856" y="391.2" textLength="5.9" lengthAdjust="spacingAndGlyphs">4</text>
<text x="856" y="372.2" textLength="5.9" lengthAdjust="spacingAndGlyphs">6</text>
<text x="856" y="352.2" textLength="5.9" lengthAdjust="spacingAndGlyphs">8</text>
<text x="856" y="333.2" textLength="11.8" lengthAdjust="spacingAndGlyphs">10</text>
<text x="856" y="313.2" textLength="11.8" lengthAdjust="spacingAndGlyphs">12</text>
<text x="856" y="294.2" textLength="11.8" lengthAdjust="spacingAndGlyphs">14</text>
<text x="856" y="275.2" textLength="11.8" lengthAdjust="spacingAndGlyphs">16</text>
<text x="856" y="255.2" textLength="11.8" lengthAdjust="spacingAndGlyphs">18</text>
<text x="856" y="236.2" textLength="11.8" lengthAdjust="spacingAndGlyphs">20</text>
<text x="856" y="216.2" textLength="11.8" lengthAdjust="spacingAndGlyphs">22</text>
<text x="856" y="197.2" textLength="11.8" lengthAdjust="spacingAndGlyphs">24</text>
<text x="856" y="178.2" textLength="11.8" lengthAdjust="spacingAndGlyphs">26</text>
<text x="856" y="158.2" textLength="11.8" lengthAdjust="spacingAndGlyphs">28</text>
<text x="856" y="139.2" textLength="11.8" lengthAdjust="spacingAndGlyphs">30</text>
<text x="856" y="120.2" textLength="11.8" lengthAdjust="spacingAndGlyphs">32</text>
<text x="856" y="100.2" textLength="11.8" lengthAdjust="spacingAndGlyphs">34</text>
<text x="856" y="81.2" textLength="11.8" lengthAdjust="spacingAndGlyphs">36</text>
<text x="856" y="61.2" textLength="11.8" lengthAdjust="spacingAndGlyphs">38</text>
<text x="856" y="42.2" textLength="11.8" lengthAdjust="spacingAndGlyphs">40</text>
</g>
<text class="sb" font-size="14" text-anchor="middle" transform="translate(25.2 231.5) rotate(-90)" textLength="33" lengthAdjust="spacingAndGlyphs">Watt</text>
<text class="sb" font-size="14" text-anchor="middle" x="460.8" y="464.7" textLength="29" lengthAdjust="spacingAndGlyphs">time</text>
<text font-family="Liberation Sans,sans-serif" font-size="11.2" fill="#000" text-anchor="middle" transform="translate(876.2 230.7) rotate(90)">%</text>
<rect x="128.5" y="477.5" width="643" height="21" fill="#fff" stroke="#000" stroke-width="1" shape-rendering="crispEdges"/>
<line x1="131" y1="487.6" x2="147" y2="487.6" stroke="#cc00cc" stroke-width="2"/>
<text class="t" y="492.5"><tspan x="149.3" textLength="223.7" lengthAdjust="spacingAndGlyphs">SB3000TL-20-SN2100578613_21panels(</tspan><tspan> </tspan><tspan x="376.3" textLength="31.2" lengthAdjust="spacingAndGlyphs">4.317</tspan><tspan> </tspan><tspan x="412" textLength="25.8" lengthAdjust="spacingAndGlyphs">kWh</tspan><tspan> </tspan><tspan x="443.2">)</tspan></text>
<line x1="452" y1="487.6" x2="468" y2="487.6" stroke="#0033cc" stroke-width="2"/>
<rect x="138.2" y="486.2" width="1.6" height="2.2" fill="#cc00cc"/><rect x="459.2" y="486.2" width="1.6" height="2.2" fill="#0033cc"/>
<text class="t" y="492.5"><tspan x="470.5" textLength="222.5" lengthAdjust="spacingAndGlyphs">SB3000TL-21-SN2130032031_19panels(</tspan><tspan> </tspan><tspan x="696.7" textLength="32.2" lengthAdjust="spacingAndGlyphs">3.766</tspan><tspan> </tspan><tspan x="733.2" textLength="25.5" lengthAdjust="spacingAndGlyphs">kWh</tspan><tspan> </tspan><tspan x="763.6">)</tspan></text>
</svg></body></html>
